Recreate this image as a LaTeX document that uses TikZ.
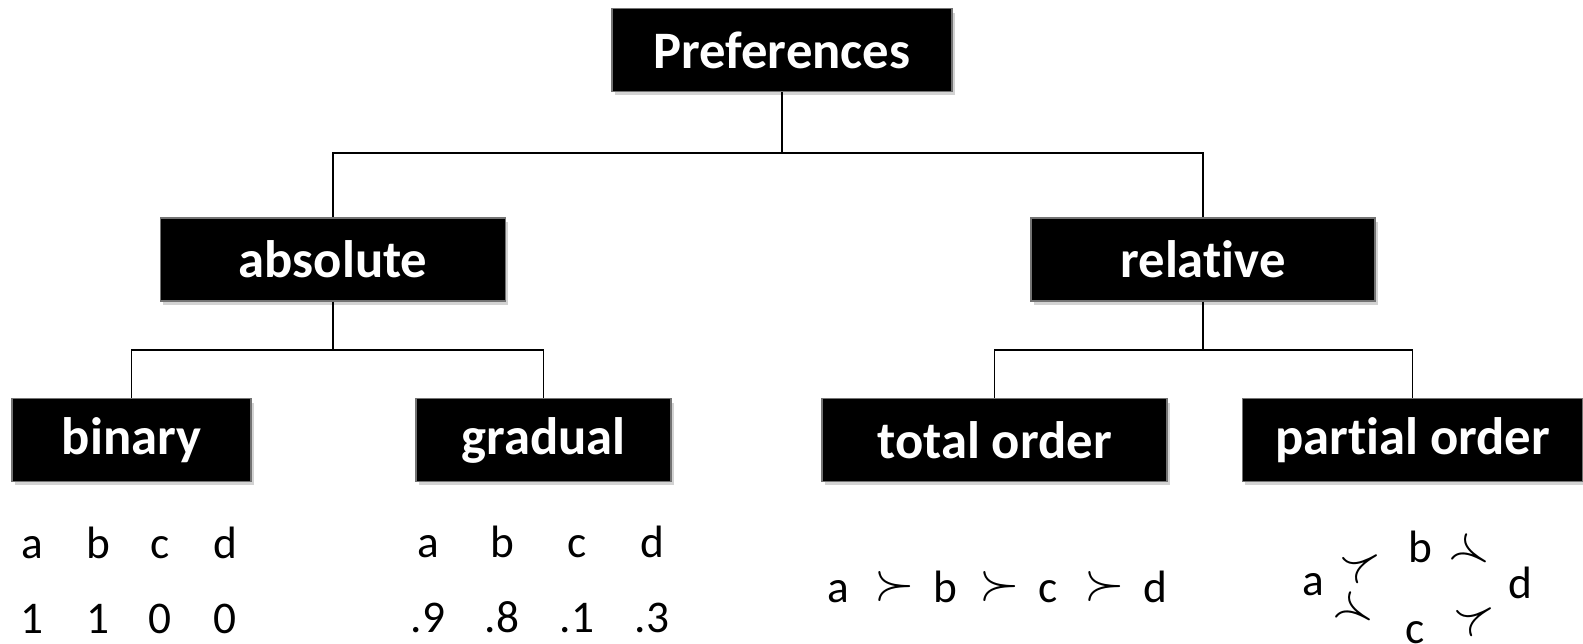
\documentclass[tikz,border=0pt]{standalone}
\usepackage{fontspec}
\setmainfont{Carlito}[Ligatures={NoCommon,NoRare}]
\usepackage{tikz}
\usetikzlibrary{shadows}

\tikzset{
  catbox/.style={fill=black, draw=black!55, line width=1.2pt, text=white,
    font=\fontsize{39.5}{46}\selectfont\bfseries, minimum height=62pt, inner sep=0pt,
    drop shadow={shadow xshift=2pt, shadow yshift=-3pt, opacity=0.35}},
  item/.style={font=\fontsize{34}{40}\selectfont, inner sep=0pt, anchor=base},
  prec/.style={inner sep=0pt},
  link/.style={line width=1.3pt}
}
\newcommand{\bigsucc}{\scalebox{3.9}{$\succ$}}

\begin{document}
\begin{tikzpicture}[x=0.75pt,y=0.75pt,yscale=-1,xscale=1]
\useasboundingbox (0,0) rectangle (1583,643);

%Boxes
\node[catbox, minimum width=255pt] (pref) at (782,50) {Preferences};
\node[catbox, minimum width=259pt] (abs) at (333,259.5) {absolute};
\node[catbox, minimum width=258pt] (rel) at (1203,259.5) {relat\kern0pt ive};
\node[catbox, minimum width=179pt] (bin) at (131.5,440) {binary};
\node[catbox, minimum width=191pt] (grad) at (543.5,440) {gradual};
\node[catbox, minimum width=259pt] (tot) at (994.5,440) {total order};
\node[catbox, minimum width=255pt] (part) at (1412.5,440) {part\kern0pt ial order};

%Tree lines
\coordinate (jtop) at (782,153);
\coordinate (jabs) at (333,350);
\coordinate (jrel) at (1203,350);
\draw[link] (pref.south) -- (jtop);
\draw[link] (jtop) -| (abs.north);
\draw[link] (jtop) -| (rel.north);
\draw[link] (abs.south) -- (jabs);
\draw[link] (jabs) -| (bin.north);
\draw[link] (jabs) -| (grad.north);
\draw[link] (rel.south) -- (jrel);
\draw[link] (jrel) -| (tot.north);
\draw[link] (jrel) -| (part.north);

% Text Node: binary values
\foreach \l/\v/\x in {a/1/32,b/1/98,c/0/160,d/0/225}{
  \node[item] (bin-\l) at (\x,558) {\l};
  \node[item] (binv-\l) at (\x,633) {\v};
}
% Text Node: gradual values
\foreach \l/\v/\x in {a/.9/428,b/.8/502,c/.1/577,d/.3/652}{
  \node[item] (grad-\l) at (\x,557) {\l};
  \node[item] (gradv-\l) at (\x,632) {\v};
}

% Text Node: total order
\foreach \l/\x in {a/838,b/945,c/1048,d/1155}
  \node[item] (tot-\l) at (\x,602) {\l};
\foreach \i/\x in {1/895,2/1000,3/1105}
  \node[prec] (tots-\i) at (\x,586) {\bigsucc};

% Text Node: partial order
\node[item] (part-a) at (1313,595) {a};
\node[item] (part-b) at (1420,562) {b};
\node[item] (part-c) at (1415,643) {c};
\node[item] (part-d) at (1520,598) {d};
\node[prec, rotate=30] (ps-ab) at (1363,563) {\bigsucc};
\node[prec, rotate=-30] (ps-ac) at (1356,612) {\bigsucc};
\node[prec, rotate=-30] (ps-bd) at (1472,554) {\bigsucc};
\node[prec, rotate=30] (ps-cd) at (1477,616) {\bigsucc};

\end{tikzpicture}
\end{document}
